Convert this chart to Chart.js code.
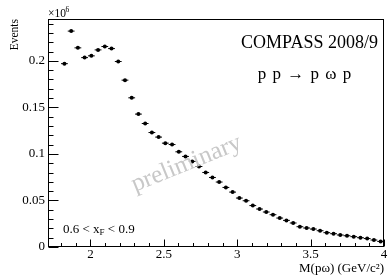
<!DOCTYPE html>
<html><head><meta charset="utf-8">
<script src="https://cdn.jsdelivr.net/npm/chart.js@4"></script>
<style>html,body{margin:0;padding:0;background:#fff}</style>
</head><body>
<canvas id="c" width="389" height="276"></canvas>
<script>
// Bin centres of M(p omega) in GeV/c^2
const massCenters = [1.8229,1.8688,1.9146,1.9604,2.0063,2.0521,2.0979,2.1438,2.1896,2.2354,
  2.2813,2.3271,2.3729,2.4188,2.4646,2.5104,2.5563,2.6021,2.6479,2.6938,
  2.7396,2.7854,2.8313,2.8771,2.9229,2.9688,3.0146,3.0604,3.1063,3.1521,
  3.1979,3.2438,3.2896,3.3354,3.3813,3.4271,3.4729,3.5188,3.5646,3.6104,
  3.6563,3.7021,3.7479,3.7938,3.8396,3.8854,3.9313,3.9771];
// Events per bin, in units of 10^6
const events = [0.1970,0.2320,0.2140,0.2035,0.2054,0.2118,0.2154,0.2132,0.1993,0.1793,
  0.1603,0.1428,0.1327,0.1230,0.1181,0.1116,0.1101,0.1023,0.0973,0.0920,
  0.0865,0.0801,0.0747,0.0698,0.0640,0.0590,0.0526,0.0497,0.0445,0.0408,
  0.0376,0.0347,0.0311,0.0286,0.0258,0.0218,0.0204,0.0193,0.0175,0.0154,
  0.0143,0.0129,0.0121,0.0111,0.0100,0.0091,0.0075,0.0060];
const xTickValues = [2, 2.5, 3, 3.5, 4];
const xTickLabels = ['2', '2.5', '3', '3.5', '4'];
const yTickValues = [0, 0.05, 0.1, 0.15, 0.2];
const yTickLabels = ['0', '0.05', '0.1', '0.15', '0.2'];
const xRange = [1.711, 4.0];
const yRange = [0, 0.245];

const FONT = "'Liberation Serif', 'Times New Roman', serif";
Chart.defaults.font.family = FONT;
Chart.defaults.color = '#000';

const points = massCenters.map((m, i) => ({x: m, y: events[i]}));

const rootStyle = {
  id: 'rootStyle',
  afterDatasetsDraw(chart) {
    const {ctx} = chart;
    ctx.save();
    ctx.translate(189, 170);
    ctx.rotate(-22 * Math.PI / 180);
    ctx.font = '25px ' + FONT;
    ctx.fillStyle = 'rgb(200,200,200)';
    ctx.textAlign = 'center';
    ctx.textBaseline = 'alphabetic';
    ctx.fillText('preliminary', 0, 0);
    ctx.restore();
  },
  afterDraw(chart) {
    const {ctx, chartArea: a, scales: {x, y}} = chart;
    ctx.save();
    ctx.strokeStyle = '#000';
    ctx.lineWidth = 1;
    const L = Math.round(a.left) + 0.5, R = Math.round(a.right) - 0.5;
    const T = Math.round(a.top) + 0.5, B = Math.round(a.bottom) - 0.5;
    ctx.strokeRect(L, T, R - L, B - T);
    ctx.beginPath();
    for (let k = 0; k <= 24; k++) {
      const py = Math.round(y.getPixelForValue(k * 0.01)) + 0.5;
      const len = (k % 5 === 0) ? 10 : 5;
      ctx.moveTo(L, py); ctx.lineTo(L + len, py);
    }
    for (let k = 18; k <= 40; k++) {
      const px = Math.round(x.getPixelForValue(k * 0.1)) + 0.5;
      if (px < L) continue;
      const len = (k % 5 === 0) ? 7 : 3.5;
      ctx.moveTo(px, B); ctx.lineTo(px, B - len);
    }
    ctx.stroke();

    ctx.fillStyle = '#000';
    ctx.textBaseline = 'alphabetic';
    // x10^6 exponent
    ctx.textAlign = 'left';
    ctx.font = '11.5px ' + FONT;
    ctx.fillText('\u00d710', 48, 16.5);
    ctx.font = '7.5px ' + FONT;
    ctx.fillText('6', 65.5, 12);
    // labels
    ctx.font = '18px ' + FONT;
    ctx.textAlign = 'right';
    ctx.fillText('COMPASS 2008/9', 378, 48);
    ctx.font = '17px ' + FONT;
    ctx.textAlign = 'center';
    ctx.letterSpacing = '1px';
    ctx.fillText('p p \u2192 p \u03c9 p', 305, 78.5);
    ctx.letterSpacing = '0px';
    // x_F range
    ctx.textAlign = 'left';
    ctx.font = '13px ' + FONT;
    let cx = 63;
    const t1 = '0.6 < x';
    ctx.fillText(t1, cx, 232.5); cx += ctx.measureText(t1).width;
    ctx.font = '9px ' + FONT;
    ctx.fillText('F', cx, 235); cx += ctx.measureText('F').width;
    ctx.font = '13px ' + FONT;
    ctx.fillText(' < 0.9', cx, 232.5);
    ctx.restore();
  }
};

new Chart(document.getElementById('c'), {
  type: 'scatter',
  data: {
    datasets: [
      {data: points, pointStyle: 'line', pointRadius: 3.4, borderColor: '#000', borderWidth: 1, showLine: false},
      {data: points, pointStyle: 'circle', pointRadius: 2, backgroundColor: '#000', borderWidth: 0, showLine: false}
    ]
  },
  options: {
    responsive: false,
    animation: false,
    events: [],
    layout: {padding: {top: 19, right: 3, left: 0, bottom: 0}},
    plugins: {legend: {display: false}, tooltip: {enabled: false}},
    scales: {
      x: {
        type: 'linear', position: 'bottom', min: xRange[0], max: xRange[1],
        afterBuildTicks: s => { s.ticks = xTickValues.map(v => ({value: v})); },
        afterFit: s => { s.height = 29; },
        grid: {display: false, drawTicks: false}, border: {display: false},
        ticks: {padding: 0, color: '#000', font: {size: 13}, maxRotation: 0, autoSkip: false,
          callback: (v, i) => xTickLabels[i]},
        title: {display: true, text: 'M(p\u03c9) (GeV/c\u00b2)', align: 'end', color: '#000',
          font: {size: 13}, padding: {top: 0, bottom: 0}}
      },
      y: {
        type: 'linear', position: 'left', min: yRange[0], max: yRange[1],
        afterBuildTicks: s => { s.ticks = yTickValues.map(v => ({value: v})); },
        afterFit: s => { s.width = 48; },
        grid: {display: false, drawTicks: false}, border: {display: false},
        ticks: {padding: 3, color: '#000', font: {size: 13}, autoSkip: false,
          callback: (v, i) => yTickLabels[i]},
        title: {display: true, text: 'Events', align: 'end', color: '#000',
          font: {size: 11.5}, padding: {top: 8, bottom: 0}}
      }
    }
  },
  plugins: [rootStyle]
});
</script>
</body></html>
